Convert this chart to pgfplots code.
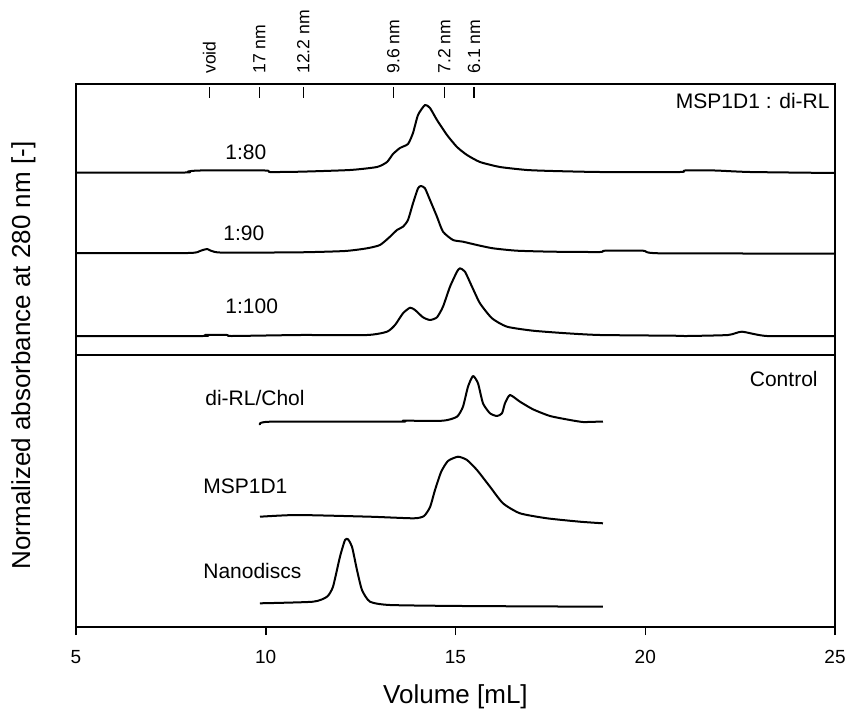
\documentclass[border=0pt]{standalone}
\usepackage{pgfplots}
\pgfplotsset{compat=1.18}
\usepackage{fontspec}
\setmainfont{Liberation Sans}

\newcommand{\lbl}{\fontsize{10.5}{12}\selectfont}

\begin{document}
\begin{tikzpicture}
\pgfplotsset{
  base/.style={
    at={(38pt,43.5pt)}, anchor=south west,
    scale only axis, width=379.5pt, height=271.5pt,
    xmin=5, xmax=25, ymin=0, ymax=543,
  },
  trace/.style={black, solid, line width=1pt, line join=round, mark=none, smooth, tension=0.35},
}
\begin{axis}[base,
  axis line style={line width=0.75pt},
  xtick={5,10,15,20,25}, ytick=\empty,
  tick pos=bottom, tick align=outside,
  major tick length=4pt,
  xtick style={black, line width=0.75pt},
  /pgf/number format/assume math mode=true,
  xticklabel style={font=\fontsize{9.5}{11}\selectfont, yshift=-4pt},
  xlabel={Volume [mL]},
  ylabel={Normalized absorbance at 280 nm [-]},
  label style={font=\fontsize{13}{15}\selectfont},
  xlabel style={at={(axis description cs:0.5,-0.14)}, anchor=base},
  ylabel style={at={(axis description cs:-0.0606,0.5)}, anchor=base},
]
% MSP1D1 : di-RL 1:80
\addplot[trace] coordinates {(5.000,454.5) (7.872,454.5) (7.951,455.5) (8.267,456.5) (9.980,456.5)
 (10.112,455) (10.902,455.3) (12.220,457) (12.931,460) (13.195,465) (13.353,473) (13.537,479)
 (13.748,483) (13.880,494) (14.012,512) (14.196,522) (14.328,519) (14.512,507) (14.776,492)
 (15.039,480) (15.303,472) (15.645,465) (16.172,460) (16.884,457) (17.569,456) (18.807,455)
 (20.915,455) (21.047,456.5) (21.838,456.5) (22.760,455) (25.000,454)};
% 1:90
\addplot[trace] coordinates {(5.000,374) (7.951,374) (8.267,376) (8.452,378) (8.794,374.5) (10.902,374.7)
 (12.088,376) (12.668,378.7) (13.010,382) (13.274,390.3) (13.458,397) (13.616,400.3) (13.748,407)
 (13.880,423.7) (14.012,438.7) (14.091,441) (14.196,438.7) (14.328,427) (14.512,410.3) (14.670,395.3)
 (14.934,387) (15.197,385.3) (15.566,382) (15.988,378.7) (16.620,376.3) (17.569,375.3) (18.807,375)
 (18.939,376.3) (19.940,376.3) (20.388,373.7) (25.000,373.5)};
% 1:100
\addplot[trace] coordinates {(5.000,291) (8.346,291) (8.400,292) (8.979,292) (9.100,291) (10.902,292)
 (12.668,292) (13.195,295.3) (13.406,302) (13.616,313.7) (13.801,319.3) (13.933,317) (14.143,309.7)
 (14.328,307) (14.512,309.7) (14.670,320.3) (14.855,340.3) (15.039,355.3) (15.118,358.7) (15.250,355.3)
 (15.435,340.3) (15.645,323.7) (15.962,308.7) (16.357,300.3) (17.042,296.3) (17.938,293.7) (18.807,292)
 (20.731,291.3) (21.100,291) (22.180,292) (22.549,295.3) (23.208,291) (25.000,291)};
% Control: di-RL/Chol
\addplot[trace] coordinates {(9.848,202) (10.112,205.3) (13.537,205.3) (13.616,206.3) (14.670,206.3)
 (15.039,210.3) (15.197,220.3) (15.329,240.3) (15.461,251) (15.593,243.7) (15.724,223.7) (15.909,213.7)
 (16.093,211) (16.225,213.7) (16.304,223.7) (16.436,232) (16.699,225.3) (17.042,217.7) (17.490,211)
 (18.017,207) (18.359,205) (18.728,205.3) (18.886,205.5)};
% Control: MSP1D1
\addplot[trace] coordinates {(9.848,110.3) (10.823,112) (12.747,110.3) (13.900,108.7) (14.170,111)
 (14.330,120) (14.460,137) (14.620,155) (14.800,166) (15.066,170.3) (15.303,167) (15.566,157) (15.909,140.3)
 (16.251,123.7) (16.699,113.7) (17.411,108.7) (18.280,105.3) (18.886,103.7)};
% Control: Nanodiscs
\addplot[trace] coordinates {(9.848,23.7) (11.245,25.3) (11.614,30.3) (11.772,40.3) (11.956,70.3)
 (12.088,87) (12.167,87.7) (12.273,80.3) (12.404,57) (12.536,37) (12.747,25.3) (13.274,22)
 (15.197,21) (18.886,20.3)};

\draw[line width=0.75pt] (axis cs:5,272) -- (axis cs:25,272);

\begin{scope}[every node/.style={inner sep=0pt, font=\lbl}]
\node[anchor=base west] at (axis cs:8.926,468) {1:80};
\node[anchor=base west] at (axis cs:8.873,387) {1:90};
\node[anchor=base west] at (axis cs:8.926,314) {1:100};
\node[anchor=base west] at (axis cs:8.399,222) {di-RL/Chol};
\node[anchor=base west] at (axis cs:8.346,134) {MSP1D1};
\node[anchor=base west] at (axis cs:8.346,49) {Nanodiscs};
\node[anchor=base east] at (axis cs:24.868,519) {MSP1D1 : di-RL};
\node[anchor=base east] at (axis cs:24.552,241) {Control};
\end{scope}
\end{axis}

% size markers along the top
\begin{axis}[base,
  axis x line*=top, axis y line=none,
  x axis line style={draw=none},
  xtick={8.512,9.830,10.989,13.361,14.705,15.487},
  xticklabels={void,17 nm,12.2 nm,9.6 nm,7.2 nm,6.1 nm},
  tick align=inside, major tick length=5.5pt,
  xtick style={black, line width=0.75pt, yshift=-1.5pt},
  xticklabel style={rotate=90, anchor=west, font=\fontsize{8.8}{10}\selectfont, inner xsep=5pt},
]
\end{axis}

\pgfresetboundingbox
\path[use as bounding box] (0,0) rectangle (423pt,357pt);
\end{tikzpicture}
\end{document}
